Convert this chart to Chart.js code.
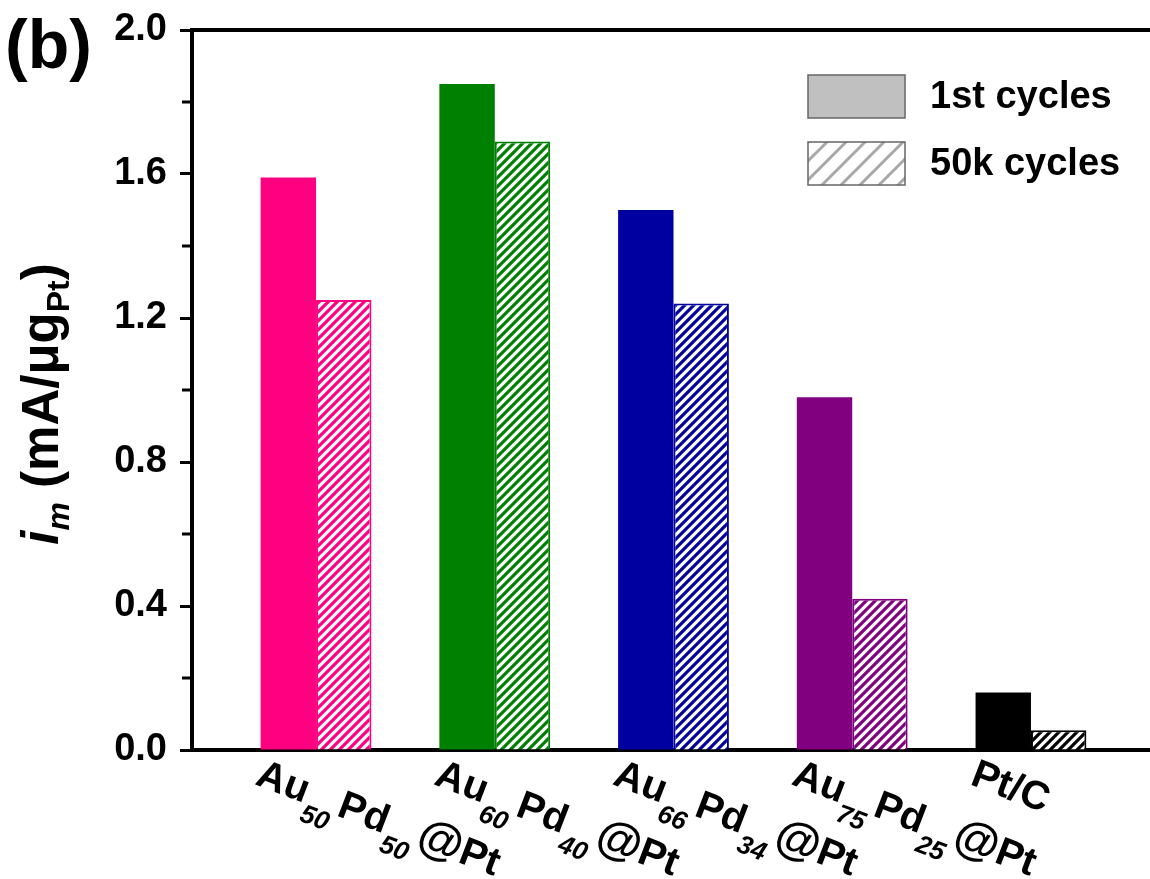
<!DOCTYPE html>
<html>
<head>
<meta charset="utf-8">
<script src="https://cdn.jsdelivr.net/npm/chart.js@4/dist/chart.umd.min.js"></script>
<style>
  body { margin: 0; background: #fff; }
  #wrap { width: 1150px; height: 879px; }
</style>
</head>
<body>
<div id="wrap"><canvas id="chart" width="1150" height="879"></canvas></div>
<script>
// data
const categories = ['Au50Pd50@Pt', 'Au60Pd40@Pt', 'Au66Pd34@Pt', 'Au75Pd25@Pt', 'Pt/C'];
const firstCycles = [1.59, 1.85, 1.50, 0.98, 0.16];
const cycles50k = [1.25, 1.69, 1.24, 0.42, 0.055];
const barColors = ['#FF0080', '#008000', '#0000A0', '#800080', '#000000'];
const yTicks = [0, 0.4, 0.8, 1.2, 1.6, 2.0];
const yMinorTicks = [0.2, 0.6, 1.0, 1.4, 1.8];
const legendLabels = ['1st cycles', '50k cycles'];

const FONT = "'Liberation Sans', Arial, sans-serif";

// diagonal hatch fill
function makeHatch(color, size, lw) {
  const tile = document.createElement('canvas');
  tile.width = size;
  tile.height = size;
  const c = tile.getContext('2d');
  c.fillStyle = '#fff';
  c.fillRect(0, 0, size, size);
  c.strokeStyle = color;
  c.lineWidth = lw;
  c.beginPath();
  c.moveTo(-1, size + 1); c.lineTo(size + 1, -1);
  c.moveTo(-2, 2); c.lineTo(2, -2);
  c.moveTo(size - 2, size + 2); c.lineTo(size + 2, size - 2);
  c.stroke();
  return c.createPattern(tile, 'repeat');
}

const hatchFills = barColors.map(c => makeHatch(c, 9, 3.2));

// draws "Au50Pd50@Pt" style text with digits as subscripts
function drawSubText(ctx, text, x, y, size, subSize) {
  let pos = x;
  const parts = text.match(/\d+|@|[^\d@]+/g) || [];
  parts.forEach(p => {
    if (/^\d+$/.test(p)) {
      ctx.font = 'italic bold ' + subSize + 'px ' + FONT;
      ctx.fillText(p, pos + 1, y + size * 0.45);
      pos += ctx.measureText(p).width + 5;
    } else {
      // the @ sign is drawn a bit larger, as in the figure
      ctx.font = 'bold ' + (p === '@' ? size * 1.15 : size) + 'px ' + FONT;
      ctx.fillText(p, pos, y);
      pos += ctx.measureText(p).width;
    }
  });
  return pos - x;
}

const extras = {
  id: 'extras',
  afterDraw(chart) {
    const ctx = chart.ctx;
    const area = chart.chartArea;
    const xs = chart.scales.x;
    const ys = chart.scales.y;
    ctx.save();
    ctx.fillStyle = '#000';
    ctx.strokeStyle = '#000';

    // top frame line
    ctx.lineWidth = 4;
    ctx.beginPath();
    ctx.moveTo(area.left - 2, area.top);
    ctx.lineTo(area.right, area.top);
    ctx.stroke();

    // minor ticks
    ctx.lineWidth = 3;
    yMinorTicks.forEach(v => {
      const py = ys.getPixelForValue(v);
      ctx.beginPath();
      ctx.moveTo(area.left - 2, py);
      ctx.lineTo(area.left - 10, py);
      ctx.stroke();
    });

    // panel letter
    ctx.font = 'bold 68px ' + FONT;
    ctx.textBaseline = 'alphabetic';
    ctx.textAlign = 'left';
    ctx.fillText('(b)', 5, 68);

    // y title
    ctx.save();
    ctx.translate(58, 404);
    ctx.rotate(-Math.PI / 2);
    const big = 51, small = 32;
    const pieces = [
      ['i', 'italic bold ' + big + 'px ', 0],
      ['m', 'italic bold ' + small + 'px ', 11],
      [' (mA/\u03bcg', 'bold ' + big + 'px ', 0],
      ['Pt', 'bold ' + small + 'px ', 11],
      [')', 'bold ' + big + 'px ', 0]
    ];
    let total = 0;
    pieces.forEach(p => { ctx.font = p[1] + FONT; total += ctx.measureText(p[0]).width; });
    let tx = -total / 2;
    pieces.forEach(p => {
      ctx.font = p[1] + FONT;
      ctx.fillText(p[0], tx, p[2]);
      tx += ctx.measureText(p[0]).width;
    });
    ctx.restore();

    // category labels, rotated
    const angle = 21 * Math.PI / 180;
    categories.forEach((label, i) => {
      const cx = xs.getPixelForValue(i + 1);
      ctx.save();
      ctx.translate(cx - 62, 784);
      ctx.rotate(angle);
      drawSubText(ctx, label, 0, 0, 40, 26);
      ctx.restore();
    });

    // legend
    const lx = 808, lw = 97, lh = 43;
    const rows = [75, 142];
    const legFill = ['#C0C0C0', makeHatch('#A8A8A8', 19, 3)];
    rows.forEach((ry, k) => {
      ctx.fillStyle = legFill[k];
      ctx.fillRect(lx, ry, lw, lh);
      ctx.strokeStyle = '#666';
      ctx.lineWidth = 1.5;
      ctx.strokeRect(lx, ry, lw, lh);
      ctx.fillStyle = '#000';
      ctx.font = 'bold 38px ' + FONT;
      ctx.textBaseline = 'middle';
      ctx.fillText(legendLabels[k], 930, ry + lh / 2 + 1);
    });

    ctx.restore();
  }
};

new Chart(document.getElementById('chart'), {
  type: 'bar',
  data: {
    datasets: [
      {
        label: legendLabels[0],
        data: firstCycles.map((v, i) => ({ x: i + 1, y: v })),
        backgroundColor: barColors,
        borderWidth: 0
      },
      {
        label: legendLabels[1],
        data: cycles50k.map((v, i) => ({ x: i + 1, y: v })),
        backgroundColor: hatchFills,
        borderColor: barColors,
        borderWidth: 2
      }
    ]
  },
  options: {
    responsive: false,
    animation: false,
    layout: { padding: { top: 30, left: 0, right: 0, bottom: 0 } },
    categoryPercentage: 0.62,
    barPercentage: 1.0,
    plugins: {
      legend: { display: false },
      tooltip: { enabled: false }
    },
    scales: {
      x: {
        type: 'linear',
        min: 0.306,
        max: 5.666,
        offset: false,
        afterBuildTicks: s => { s.ticks = categories.map((c, i) => ({ value: i + 1 })); },
        grid: { display: false },
        ticks: { display: false },
        border: { display: true, width: 4, color: '#000' },
        afterFit: s => { s.height = 129; s.paddingLeft = 0; s.paddingRight = 0; }
      },
      y: {
        min: 0,
        max: 2.0,
        afterBuildTicks: s => { s.ticks = yTicks.map(v => ({ value: v })); },
        ticks: {
          color: '#000',
          padding: 13,
          font: { family: FONT, size: 38, weight: 'bold' },
          callback: v => v.toFixed(1)
        },
        grid: {
          drawOnChartArea: false,
          drawTicks: true,
          tickLength: 12,
          tickWidth: 3,
          tickColor: '#000'
        },
        border: { display: true, width: 4, color: '#000' },
        afterFit: s => { s.width = 192; s.paddingTop = 0; s.paddingBottom = 0; }
      }
    }
  },
  plugins: [extras]
});
</script>
</body>
</html>
